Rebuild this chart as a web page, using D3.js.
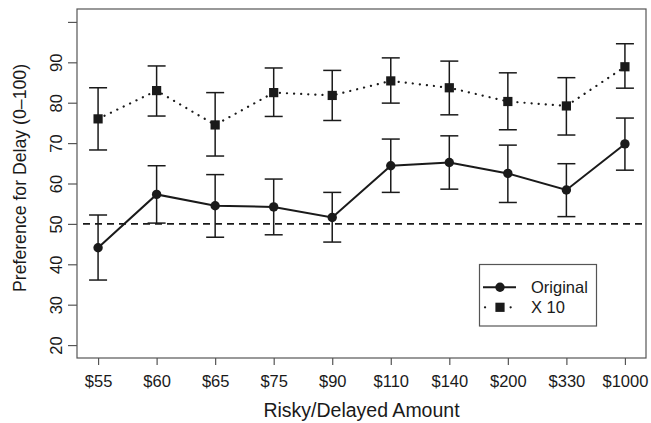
<!DOCTYPE html>
<html>
<head>
<meta charset="utf-8">
<script src="https://cdn.jsdelivr.net/npm/d3@7"></script>
<style>
  html, body { margin: 0; padding: 0; background: #fff; }
  svg { display: block; font-family: "Liberation Sans", Arial, Helvetica, sans-serif; }
</style>
</head>
<body>
<svg id="chart" width="651" height="423"></svg>
<script>
// ---- data ----
const categories = ["$55", "$60", "$65", "$75", "$90", "$110", "$140", "$200", "$330", "$1000"];
const originalMean = [44.1, 57.3, 54.5, 54.2, 51.6, 64.4, 65.2, 62.5, 58.4, 69.8];
const originalHigh = [52.2, 64.4, 62.2, 61.1, 57.8, 71.0, 71.8, 69.5, 64.9, 76.2];
const originalLow  = [36.1, 50.2, 46.7, 47.3, 45.5, 57.8, 58.6, 55.3, 51.8, 63.3];
const x10Mean = [76.0, 83.0, 74.5, 82.5, 81.8, 85.4, 83.7, 80.3, 79.2, 88.9];
const x10High = [83.7, 89.1, 82.5, 88.6, 88.0, 91.1, 90.3, 87.4, 86.2, 94.6];
const x10Low  = [68.3, 76.7, 66.8, 76.6, 75.6, 79.9, 77.0, 73.3, 72.0, 83.6];
const yTicks = [20, 30, 40, 50, 60, 70, 80, 90, 100];
const yTickLabels = ["20", "30", "40", "50", "60", "70", "80", "90", ""];
const referenceLine = 50;
const seriesNames = ["Original", "X 10"];
const xTitle = "Risky/Delayed Amount";
const yTitle = "Preference for Delay (0\u2013100)";

// ---- layout ----
const L = 77, R = 646, T = 9, B = 358;
const svg = d3.select("#chart");
const ink = "#1a1a1a";
const frame = "#555";

const x = d3.scaleLinear().domain([-0.36, categories.length - 1 + 0.36]).range([L, R]);
const y = d3.scaleLinear().domain([16.8, 103.2]).range([B, T]);

// frame
svg.append("rect").attr("x", L).attr("y", T).attr("width", R - L).attr("height", B - T)
  .attr("fill", "none").attr("stroke", frame).attr("stroke-width", 1.2);

// x axis
const xAxis = d3.axisBottom(x)
  .tickValues(d3.range(categories.length))
  .tickFormat(i => categories[i])
  .tickSize(7);
const gx = svg.append("g").attr("transform", `translate(0,${B})`).call(xAxis);
gx.select(".domain").remove();
gx.selectAll(".tick line").attr("stroke", frame).attr("stroke-width", 1.2);
gx.selectAll(".tick text").attr("y", 29).attr("dy", 0)
  .attr("fill", ink).style("font-size", "16.5px");

// y axis
const yAxis = d3.axisLeft(y)
  .tickValues(yTicks)
  .tickFormat((d, i) => yTickLabels[i])
  .tickSize(9);
const gy = svg.append("g").attr("transform", `translate(${L},0)`).call(yAxis);
gy.select(".domain").remove();
gy.selectAll(".tick line").attr("stroke", frame).attr("stroke-width", 1.2);
gy.selectAll(".tick text")
  .attr("x", 0).attr("y", -15.3).attr("dy", 0)
  .attr("transform", "rotate(-90)")
  .attr("text-anchor", "middle")
  .attr("fill", ink).style("font-size", "16.5px");

// titles
svg.append("text").attr("x", (L + R) / 2).attr("y", 417)
  .attr("text-anchor", "middle").attr("fill", ink).style("font-size", "19.5px").text(xTitle);
svg.append("text").attr("transform", `translate(26,178) rotate(-90)`)
  .attr("text-anchor", "middle").attr("fill", ink).style("font-size", "17.7px").text(yTitle);

// reference line
svg.append("line").attr("x1", L + 1).attr("x2", R - 1)
  .attr("y1", y(referenceLine)).attr("y2", y(referenceLine))
  .attr("stroke", ink).attr("stroke-width", 1.8).attr("stroke-dasharray", "7,5")
  .attr("stroke-dashoffset", -5);

// error bars
function errorBars(low, high) {
  const g = svg.append("g").attr("stroke", ink).attr("stroke-width", 1.5).attr("fill", "none");
  low.forEach((lo, i) => {
    const cx = x(i), hw = 9;
    g.append("line").attr("x1", cx).attr("x2", cx).attr("y1", y(lo)).attr("y2", y(high[i]));
    g.append("line").attr("x1", cx - hw).attr("x2", cx + hw).attr("y1", y(lo)).attr("y2", y(lo));
    g.append("line").attr("x1", cx - hw).attr("x2", cx + hw).attr("y1", y(high[i])).attr("y2", y(high[i]));
  });
}
errorBars(x10Low, x10High);
errorBars(originalLow, originalHigh);

const line = d3.line().x((d, i) => x(i)).y(d => y(d));

// X 10 series: dotted
svg.append("path").attr("d", line(x10Mean)).attr("fill", "none")
  .attr("stroke", ink).attr("stroke-width", 2.2).attr("stroke-linecap", "round")
  .attr("stroke-dasharray", "0.1,7");
svg.append("g").selectAll("rect").data(x10Mean).join("rect")
  .attr("x", (d, i) => x(i) - 4.6).attr("y", d => y(d) - 4.6)
  .attr("width", 9.2).attr("height", 9.2).attr("fill", ink);

// Original series: solid
svg.append("path").attr("d", line(originalMean)).attr("fill", "none")
  .attr("stroke", ink).attr("stroke-width", 2);
svg.append("g").selectAll("circle").data(originalMean).join("circle")
  .attr("cx", (d, i) => x(i)).attr("cy", d => y(d)).attr("r", 4.7).attr("fill", ink);

// legend
const lg = svg.append("g");
lg.append("rect").attr("x", 479.5).attr("y", 264.5).attr("width", 117).attr("height", 61.5)
  .attr("fill", "#fff").attr("stroke", frame).attr("stroke-width", 1.2);
// Original
lg.append("line").attr("x1", 483).attr("x2", 516).attr("y1", 287.3).attr("y2", 287.3)
  .attr("stroke", ink).attr("stroke-width", 2);
lg.append("circle").attr("cx", 500).attr("cy", 287.3).attr("r", 4.7).attr("fill", ink);
lg.append("text").attr("x", 531).attr("y", 292.5).attr("fill", ink)
  .style("font-size", "16.5px").text(seriesNames[0]);
// X 10
lg.append("line").attr("x1", 485).attr("x2", 516).attr("y1", 307.3).attr("y2", 307.3)
  .attr("stroke", ink).attr("stroke-width", 2.2).attr("stroke-linecap", "round")
  .attr("stroke-dasharray", "0.1,25.5");
lg.append("rect").attr("x", 500 - 4.6).attr("y", 307.3 - 4.6).attr("width", 9.2).attr("height", 9.2).attr("fill", ink);
lg.append("text").attr("x", 531).attr("y", 313).attr("fill", ink)
  .style("font-size", "16.5px").text(seriesNames[1]);
</script>
</body>
</html>
